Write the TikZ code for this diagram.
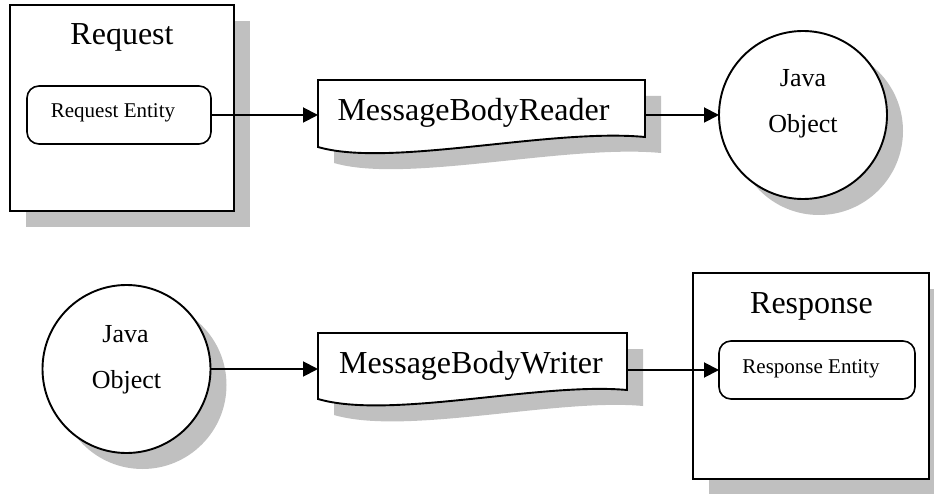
\documentclass[tikz,border=0pt]{standalone}
\usepackage{fontspec}
\setmainfont{Liberation Serif}
\usetikzlibrary{arrows.meta,shadows}
\definecolor{shadegray}{RGB}{192,192,192}
\begin{document}
\begin{tikzpicture}[x=1pt,y=-1pt,
  frame/.style={draw=black, fill=white, line width=1.9pt},
  sh/.style={drop shadow={shadow xshift=16pt, shadow yshift=-16pt, fill=shadegray, opacity=1, shadow scale=1}},
  boxnode/.style={frame, inner sep=0pt, outer sep=0pt},
  entnode/.style={draw=black, fill=white, line width=1.6pt, rounded corners=12pt, inner sep=0pt, outer sep=0pt},
  conn/.style={draw=black, line width=1.9pt, -{Triangle[length=15pt,width=15pt]}},
  titletxt/.style={font=\fontsize{32}{32}\selectfont, anchor=base, inner sep=0pt},
  enttxt/.style={font=\fontsize{21}{21}\selectfont, anchor=base, inner sep=0pt},
  objtxt/.style={font=\fontsize{26}{26}\selectfont, anchor=base, inner sep=0pt},
  doctxt/.style={font=\fontsize{32}{32}\selectfont, anchor=base, inner sep=0pt}
]
\useasboundingbox (0,0) rectangle (934,494);

% ---------- Request ----------
\node[boxnode, sh, minimum width=224pt, minimum height=206pt] (req) at (122,108) {};
\node[titletxt] (reqt) at (122,45) {Request};
\node[entnode, minimum width=184pt, minimum height=58pt] (reqent) at (119,115) {};
\node[enttxt] (reqentt) at (113,118) {Request Entity};

% ---------- MessageBodyReader ----------
\path[frame, sh] (318,80) -- (645,80) -- (645,137)
  .. controls (550,128) and (390,168) .. (318,147) -- cycle;
\node[inner sep=0pt, outer sep=0pt, minimum width=327pt, minimum height=72pt] (reader) at (481.5,116) {};
\node[doctxt] (readert) at (473.5,121) {MessageBodyReader};

% ---------- Java Object (top) ----------
\node[circle, frame, sh, minimum size=168pt, inner sep=0pt, outer sep=0pt] (obj1) at (803,115) {};
\node[objtxt] (obj1a) at (803,87) {Java};
\node[objtxt] (obj1b) at (803,133) {Object};

% ---------- Java Object (bottom) ----------
\node[circle, frame, sh, minimum size=168pt, inner sep=0pt, outer sep=0pt] (obj2) at (126.5,369) {};
\node[objtxt] (obj2a) at (125.5,342) {Java};
\node[objtxt] (obj2b) at (126.5,388) {Object};

% ---------- MessageBodyWriter ----------
\path[frame, sh] (318,333) -- (627,333) -- (627,390)
  .. controls (540,382) and (390,420) .. (318,399) -- cycle;
\node[inner sep=0pt, outer sep=0pt, minimum width=309pt, minimum height=72pt] (writer) at (472.5,369) {};
\node[doctxt] (writert) at (471,373) {MessageBodyWriter};

% ---------- Response ----------
\node[boxnode, sh, minimum width=236pt, minimum height=206pt] (resp) at (811,376) {};
\node[titletxt] (respt) at (811.5,313) {Response};
\node[entnode, minimum width=196pt, minimum height=58pt] (respent) at (817,370) {};
\node[enttxt] (respentt) at (811,373) {Response Entity};

% ---------- connectors ----------
\draw[conn] (reqent.east) -- (reqent.east -| reader.west);
\draw[conn] (obj1.west -| reader.east) -- (obj1.west);
\draw[conn] (obj2.east) -- (obj2.east -| writer.west);
\draw[conn] (respent.west -| writer.east) -- (respent.west);
\end{tikzpicture}
\end{document}
